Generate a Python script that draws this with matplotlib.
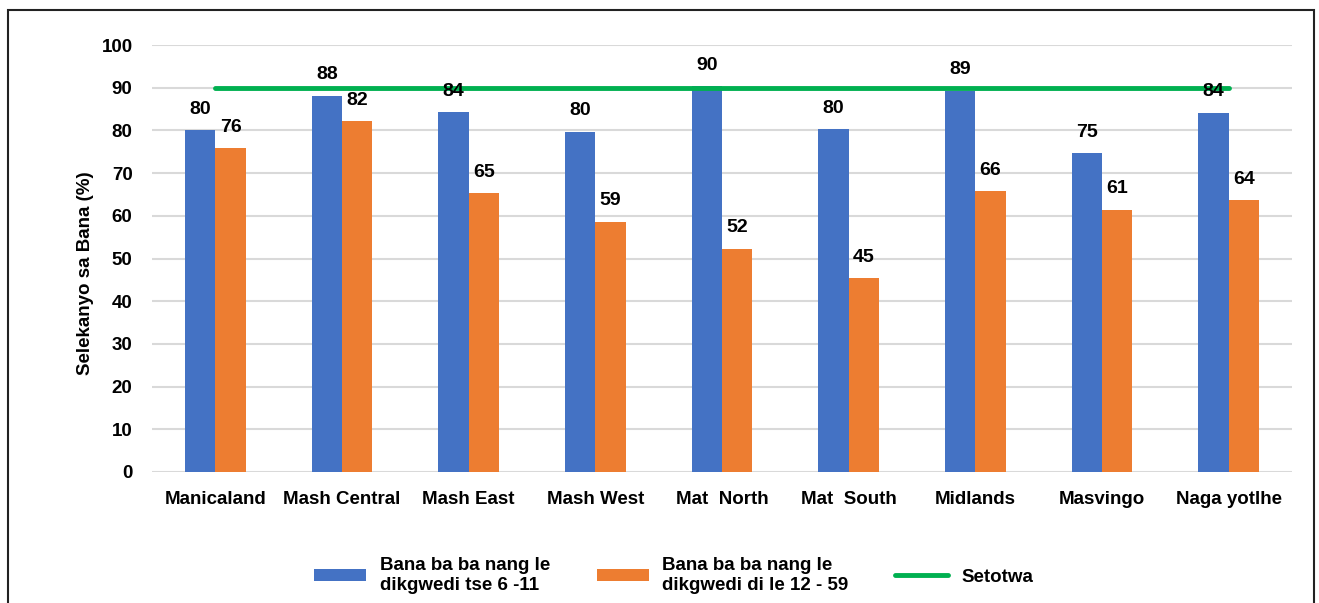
import numpy as np
import matplotlib.pyplot as plt
from matplotlib.patches import Rectangle

plt.rcParams['font.family'] = ['Liberation Sans', 'DejaVu Sans']
plt.rcParams['font.weight'] = 'bold'

regions = ['Manicaland', 'Mash Central', 'Mash East', 'Mash West', 'Mat  North',
           'Mat  South', 'Midlands', 'Masvingo', 'Naga yotlhe']
age_6_11 = [80.0, 88.1, 84.3, 79.7, 90.3, 80.3, 89.3, 74.6, 84.1]
age_12_59 = [75.8, 82.2, 65.3, 58.6, 52.3, 45.4, 65.7, 61.4, 63.6]
target = [90] * len(regions)

series_names = ['Bana ba ba nang le\ndikgwedi tse 6 -11',
                'Bana ba ba nang le\ndikgwedi di le 12 - 59',
                'Setotwa']

blue = '#4472C4'
orange = '#ED7D31'
green = '#00B050'

fig = plt.figure(figsize=(13.19, 6.03), dpi=100)
ax = fig.add_axes([152 / 1319, 1 - 472 / 603, 1140 / 1319, 427 / 603])

x = np.arange(len(regions))
w = 0.24
b1 = ax.bar(x - w / 2, age_6_11, w, color=blue, label=series_names[0], zorder=2)
b2 = ax.bar(x + w / 2, age_12_59, w, color=orange, label=series_names[1], zorder=2)
ln, = ax.plot(x, target, color=green, lw=3.5, solid_capstyle='round',
              label=series_names[2], zorder=3)

for bars, vals in ((b1, age_6_11), (b2, age_12_59)):
    for r, v in zip(bars, vals):
        ax.annotate('%d' % round(v), (r.get_x() + r.get_width() / 2, v),
                    xytext=(0, 9), textcoords='offset points',
                    ha='center', va='bottom', fontsize=14, fontweight='bold', zorder=4)

ax.set_xlim(-0.5, len(regions) - 0.5)
ax.set_ylim(0, 100)
ax.set_yticks(range(0, 101, 10))
ax.set_xticks(x)
ax.set_xticklabels(regions)
ax.tick_params(axis='both', length=0, labelsize=13.5)
ax.tick_params(axis='y', pad=14)
ax.tick_params(axis='x', pad=14)
ax.grid(axis='y', color='#d9d9d9', lw=1.5, zorder=0)
ax.set_axisbelow(True)
for s in ax.spines.values():
    s.set_visible(False)
ax.set_ylabel('Selekanyo sa Bana (%)', fontsize=13.5, fontweight='bold',
              labelpad=5, y=0.465)

leg = fig.legend(handles=[b1, b2, ln], loc='center', bbox_to_anchor=(0.5106, 0.046), ncol=3,
                 frameon=False, fontsize=13.5, handlelength=2.8, handleheight=0.65,
                 handletextpad=0.7, columnspacing=2.5)
for t in leg.get_texts():
    t.set_linespacing(1.25)

fig.patches.append(Rectangle((8 / 1319, -0.05), 1306 / 1319, 1.05 - 10 / 603,
                             transform=fig.transFigure, fill=False,
                             edgecolor='#222222', lw=1.5))

fig.savefig('out.png', dpi=100)
